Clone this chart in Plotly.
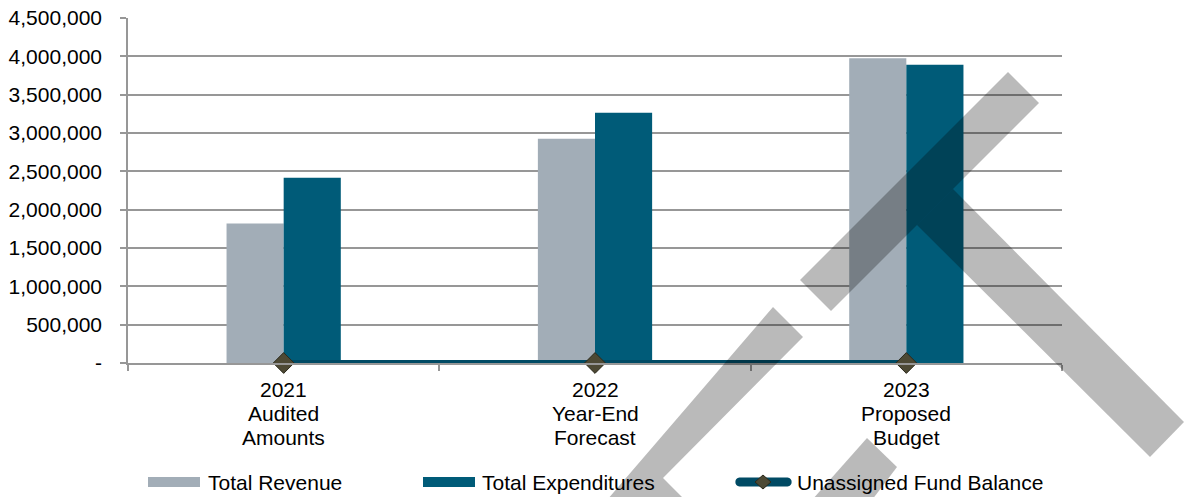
import plotly.graph_objects as go

# ---- data -------------------------------------------------------------
categories = ["2021 Audited Amounts", "2022 Year-End Forecast", "2023 Proposed Budget"]
category_lines = [["2021", "Audited", "Amounts"],
                  ["2022", "Year-End", "Forecast"],
                  ["2023", "Proposed", "Budget"]]
total_revenue = [1820000, 2925000, 3975000]
total_expenditures = [2415000, 3265000, 3890000]
unassigned_fund_balance = [0, 0, 0]

y_tick_values = [0, 500000, 1000000, 1500000, 2000000, 2500000,
                 3000000, 3500000, 4000000, 4500000]
y_tick_labels = ["-", "500,000", "1,000,000", "1,500,000", "2,000,000",
                 "2,500,000", "3,000,000", "3,500,000", "4,000,000", "4,500,000"]

series_names = ["Total Revenue", "Total Expenditures", "Unassigned Fund Balance"]

# ---- style ------------------------------------------------------------
W, H = 1186, 497
M_L, M_R, M_T, M_B = 128, 124, 18, 134
PLOT_W = W - M_L - M_R
PLOT_H = H - M_T - M_B

REVENUE_COLOR = "#A2ADB7"
EXPEND_COLOR = "#005B78"
LINE_COLOR = "#004A64"
DIAMOND_COLOR = "#4D4934"
GRID_COLOR = "#979797"
FONT = "Liberation Sans, Arial, sans-serif"
FONT_SIZE = 21


def px(x):
    """Horizontal pixel position -> paper coordinate."""
    return (x - M_L) / PLOT_W


def py(y):
    """Vertical pixel position -> paper coordinate."""
    return (H - M_B - y) / PLOT_H


def paper_path(points):
    return "M " + " L ".join(f"{px(x):.5f},{py(y):.5f}" for x, y in points) + " Z"


fig = go.Figure()

fig.add_trace(go.Bar(
    x=categories, y=total_revenue, name=series_names[0],
    marker=dict(color=REVENUE_COLOR, line=dict(width=0)),
))
fig.add_trace(go.Bar(
    x=categories, y=total_expenditures, name=series_names[1],
    marker=dict(color=EXPEND_COLOR, line=dict(width=0)),
))
fig.add_trace(go.Scatter(
    x=categories, y=unassigned_fund_balance, name=series_names[2],
    mode="lines+markers",
    line=dict(color=LINE_COLOR, width=6),
    marker=dict(symbol="diamond", size=16, color=DIAMOND_COLOR,
                line=dict(color="#2C2A1C", width=1)),
    cliponaxis=False,
))

# ---- category labels (three lines each) ------------------------------
annotations = []
line_y = [389, 413, 437]
for cat, lines in zip(categories, category_lines):
    for text, yy in zip(lines, line_y):
        annotations.append(dict(
            x=cat, xref="x", y=py(yy), yref="paper",
            text=text, showarrow=False, xanchor="center", yanchor="middle",
            font=dict(family=FONT, size=FONT_SIZE, color="#000000"),
        ))

# ---- legend -----------------------------------------------------------
shapes = []
legend_y = 482
shapes.append(dict(type="rect", xref="paper", yref="paper",
                   x0=px(148), x1=px(200), y0=py(487), y1=py(477),
                   fillcolor=REVENUE_COLOR, line=dict(width=0)))
shapes.append(dict(type="rect", xref="paper", yref="paper",
                   x0=px(423), x1=px(475), y0=py(487), y1=py(477),
                   fillcolor=EXPEND_COLOR, line=dict(width=0)))
# rounded line swatch
lx0, lx1, ly, lr = 735, 792, 482, 4.5
shapes.append(dict(
    type="path", xref="paper", yref="paper",
    path=(f"M {px(lx0 + lr):.5f},{py(ly - lr):.5f} "
          f"L {px(lx1 - lr):.5f},{py(ly - lr):.5f} "
          f"C {px(lx1 + 1):.5f},{py(ly - lr):.5f} {px(lx1 + 1):.5f},{py(ly + lr):.5f} "
          f"{px(lx1 - lr):.5f},{py(ly + lr):.5f} "
          f"L {px(lx0 + lr):.5f},{py(ly + lr):.5f} "
          f"C {px(lx0 - 1):.5f},{py(ly + lr):.5f} {px(lx0 - 1):.5f},{py(ly - lr):.5f} "
          f"{px(lx0 + lr):.5f},{py(ly - lr):.5f} Z"),
    fillcolor=LINE_COLOR, line=dict(width=0)))
shapes.append(dict(type="path", xref="paper", yref="paper",
                   path=paper_path([(755, 482), (763, 475), (771, 482), (763, 489)]),
                   fillcolor=DIAMOND_COLOR, line=dict(color="#2C2A1C", width=1)))

for name, x0 in zip(series_names, [206, 480, 795]):
    annotations.append(dict(
        x=px(x0), xref="paper", y=py(legend_y), yref="paper",
        text=name, showarrow=False, xanchor="left", yanchor="middle",
        font=dict(family=FONT, size=FONT_SIZE, color="#000000"),
    ))

# ---- translucent watermark bands -------------------------------------
band_fill = "rgba(0,0,0,0.27)"
bands = [
    [(773, 307), (803, 337), (663, 478), (685, 500), (607, 500)],
    [(867, 438), (897, 467), (872, 500), (812, 500)],
    [(800, 280), (831, 311), (1039, 103), (1008, 72)],
    [(953, 189), (917, 225), (1150, 457), (1184, 422)],
]
for b in bands:
    shapes.append(dict(type="path", xref="paper", yref="paper",
                       path=paper_path(b), fillcolor=band_fill,
                       line=dict(width=0), layer="above"))

fig.update_layout(
    width=W, height=H,
    margin=dict(l=M_L, r=M_R, t=M_T, b=M_B, pad=0, autoexpand=False),
    paper_bgcolor="white", plot_bgcolor="white",
    barmode="group", bargap=0.633, bargroupgap=0,
    showlegend=False,
    font=dict(family=FONT, size=FONT_SIZE, color="#000000"),
    annotations=annotations,
    shapes=shapes,
)

fig.update_xaxes(
    type="category", range=[-0.5, 2.5], automargin=False,
    showticklabels=False, showgrid=False, zeroline=False,
    showline=True, linecolor=GRID_COLOR, linewidth=1.5,
    ticks="outside", tickson="boundaries", ticklen=6,
    tickcolor=GRID_COLOR, tickwidth=1.5,
)
fig.update_yaxes(
    range=[0, 4500000], tickvals=y_tick_values, ticktext=y_tick_labels,
    automargin=False,
    showgrid=True, gridcolor=GRID_COLOR, gridwidth=1.5, zeroline=False,
    showline=True, linecolor=GRID_COLOR, linewidth=1.5,
    ticks="outside", ticklen=6, tickcolor=GRID_COLOR, tickwidth=1.5,
    ticklabelstandoff=14,
    tickfont=dict(family=FONT, size=FONT_SIZE, color="#000000"),
)

fig.write_html("out.html")
